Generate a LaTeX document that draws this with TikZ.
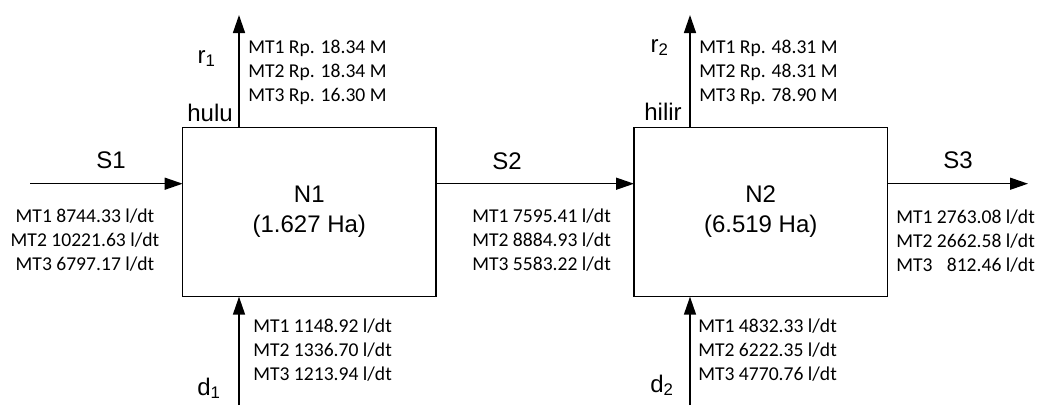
\documentclass[tikz,border=0pt]{standalone}
\usepackage{fontspec}
\setmainfont{Liberation Sans}
\newfontfamily\calibri{Carlito}
\usetikzlibrary{%
	arrows.meta,%
	positioning,%
}
\tikzset{
	>={Triangle[length=13.5pt,width=9pt]},
	nodes={align=center},
}

\begin{document}
\begin{tikzpicture}[x=0.75pt,y=-0.75pt,%
		sub/.style={draw, rectangle, line width=1pt, minimum width=190pt, minimum height=127pt, inner sep=0pt, outer sep=0pt, font=\fontsize{18}{22.5}\selectfont},%
		lbl/.style={inner sep=0pt, font=\fontsize{18}{22.5}\selectfont},%
		data/.style={align=left, inner sep=0pt, font=\calibri\fontsize{14.7}{18}\selectfont},%
		flow/.style={->, line width=1.1pt}]
	\useasboundingbox (0,0) rectangle (1043,405);

	\node[sub] (n1) at (309.3,212) {N1\\(1.627 Ha)};
	\node[sub] (n2) at (760.7,212) {N2\\(6.519 Ha)};

	\coordinate (s1) at (30,183.7);
	\coordinate (s3) at (1028,183.7);
	\coordinate (r1) at (239,15);
	\coordinate (d1) at (239,405);
	\coordinate (r2) at (690,15);
	\coordinate (d2) at (690,405);

	\draw[flow] (s1) -- (s1 -| n1.west);
	\draw[flow] (s1 -| n1.east) -- (s1 -| n2.west);
	\draw[flow] (s3 -| n2.east) -- (s3);
	\draw[flow] (r1 |- n1.north) -- (r1);
	\draw[flow] (d1) -- (d1 |- n1.south);
	\draw[flow] (r2 |- n2.north) -- (r2);
	\draw[flow] (d2) -- (d2 |- n2.south);

	\node[lbl, anchor=base] (s1lbl) at (111,168) {S1};
	\node[lbl, anchor=base] (s2lbl) at (507,169) {S2};
	\node[lbl, anchor=base] (s3lbl) at (958,168) {S3};
	\node[lbl, anchor=base east] (hulu) at (233,121) {hulu};
	\node[lbl, anchor=base east] (hilir) at (682,120) {hilir};
	\node[lbl, anchor=base east] (r1lbl) at (216,63) {r\textsubscript{1}};
	\node[lbl, anchor=base east] (r2lbl) at (669,52) {r\textsubscript{2}};
	\node[lbl, anchor=base east] (d1lbl) at (221,395) {d\textsubscript{1}};
	\node[lbl, anchor=base east] (d2lbl) at (674,392) {d\textsubscript{2}};

	\node[data, anchor=west] (r1val) at (248,72) {MT1 Rp. 18.34 M\\MT2 Rp. 18.34 M\\MT3 Rp. 16.30 M};
	\node[data, anchor=west] (r2val) at (699,72) {MT1 Rp. 48.31 M\\MT2 Rp. 48.31 M\\MT3 Rp. 78.90 M};
	\node[data, align=center] (s1val) at (85,240) {MT1 8744.33 l/dt\\MT2 10221.63 l/dt\\MT3 6797.17 l/dt};
	\node[data, anchor=west] (s2val) at (472,240) {MT1 7595.41 l/dt\\MT2 8884.93 l/dt\\MT3 5583.22 l/dt};
	\node[data, anchor=west] (s3val) at (896,241) {MT1 2763.08 l/dt\\MT2 2662.58 l/dt\\MT3 \phantom{2}812.46 l/dt};
	\node[data, anchor=west] (d1val) at (253,350) {MT1 1148.92 l/dt\\MT2 1336.70 l/dt\\MT3 1213.94 l/dt};
	\node[data, anchor=west] (d2val) at (698,350) {MT1 4832.33 l/dt\\MT2 6222.35 l/dt\\MT3 4770.76 l/dt};
\end{tikzpicture}
\end{document}
